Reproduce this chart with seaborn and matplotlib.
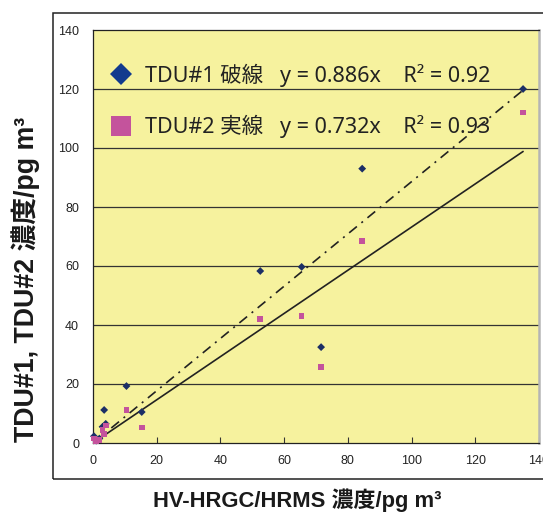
import matplotlib
matplotlib.use("Agg")
import matplotlib.pyplot as plt
from matplotlib.lines import Line2D
from matplotlib.patches import Rectangle
import seaborn as sns
import pandas as pd
import numpy as np

# ---- data ----
hv_hrgc = [0.3, 1.0, 2.0, 3.0, 3.5, 4.0, 10.5, 15.3, 52.5, 65.5, 71.6, 84.5, 135.0]
tdu1 = [2.3, 0.8, 1.5, 5.5, 11.2, 6.5, 19.3, 10.5, 58.3, 59.7, 32.5, 93.0, 120.0]
tdu2 = [1.5, 0.5, 1.0, 4.5, 3.0, 6.0, 11.2, 5.3, 42.0, 43.0, 25.8, 68.5, 112.0]
series_names = ["TDU#1", "TDU#2"]
slopes = [0.886, 0.732]
r2_values = [0.92, 0.93]
line_kinds = ["破線", "実線"]
ticks = [0, 20, 40, 60, 80, 100, 120, 140]

sns.set_theme(style="white")
plt.rcParams['font.family'] = ['Noto Sans CJK JP', 'DejaVu Sans']

df = pd.DataFrame({
    "x": hv_hrgc * 2,
    "y": tdu1 + tdu2,
    "series": [series_names[0]] * len(hv_hrgc) + [series_names[1]] * len(hv_hrgc),
})

navy = "#1c2f66"
navy_leg = "#123b8e"
magenta = "#c4539c"

fig = plt.figure(figsize=(5.43, 5.13), dpi=100)
ax = fig.add_axes([93/543, 70/513, 446/543, 413/513])
ax.set_facecolor("#f6f29e")

# gridlines
for t in ticks[1:-1]:
    ax.axhline(t, color="#333333", lw=0.9, zorder=1)

sns.scatterplot(data=df, x="x", y="y", hue="series", style="series",
                markers={"TDU#1": "D", "TDU#2": "s"},
                palette={"TDU#1": navy, "TDU#2": magenta},
                s=16, edgecolor="none", legend=False, ax=ax, zorder=3, clip_on=False)

xmax = max(hv_hrgc)
xs = np.array([0, xmax])
ax.plot(xs, slopes[0] * xs, color="#222222", lw=1.2, dashes=(6, 3.5, 1.2, 3.5), zorder=2)
ax.plot(xs, slopes[1] * xs, color="#222222", lw=1.2, zorder=2)

ax.set_xlim(0, 140)
ax.set_ylim(0, 140)
ax.set_xticks(ticks)
ax.set_yticks(ticks)
ax.set_xticklabels([str(t) for t in ticks], family=['Liberation Sans'], fontsize=9, color="#222222")
ax.set_yticklabels([str(t) for t in ticks], family=['Liberation Sans'], fontsize=9, color="#222222")
ax.tick_params(axis="x", direction="in", length=4, width=0.8, color="#333333", pad=9, bottom=True)
ax.tick_params(axis="y", direction="out", length=0, pad=10, left=True)
ax.set_xlabel("")
ax.set_ylabel("")

for side in ["left", "bottom", "top"]:
    ax.spines[side].set_color("#222222")
    ax.spines[side].set_linewidth(0.9)
ax.spines["right"].set_color("#b5b5b5")
ax.spines["right"].set_linewidth(1.8)

# legend
labels = [f"{series_names[i]} {line_kinds[i]}   y = {slopes[i]:.3f}x    R² = {r2_values[i]:.2f}" for i in range(2)]
handles = [
    Line2D([], [], marker="D", color=navy_leg, linestyle="none", markersize=11.5, markeredgewidth=0),
    Line2D([], [], marker="s", color=magenta, linestyle="none", markersize=15, markeredgewidth=0),
]
leg = ax.legend(handles, labels, loc="upper left", bbox_to_anchor=(0.0, 0.955),
                frameon=False, handlelength=1.2, handletextpad=0.5,
                labelspacing=1.3, borderaxespad=0.3,
                prop={"family": ["Noto Sans", "Noto Sans CJK JP"], "size": 15.5})
for txt in leg.get_texts():
    txt.set_color("#222222")

# outer frame
fig.patches.append(Rectangle((53/543, 34/513), 1.0, (479-13)/513, transform=fig.transFigure,
                             fill=False, edgecolor="#222222", lw=1.1))

bold_fam = ['Liberation Sans', 'Noto Sans CJK JP']
fig.text(297/543, 1 - 500/513, "HV-HRGC/HRMS 濃度/pg m³", ha="center", va="center",
         fontsize=15.8, fontweight="bold", family=bold_fam, color="#1a1a1a")
fig.text(26/543, 1 - 279/513, "TDU#1, TDU#2 濃度/pg m³", ha="center", va="center",
         rotation=90, fontsize=19.3, fontweight="bold", family=bold_fam, color="#1a1a1a")

fig.savefig("out.png", dpi=100)
